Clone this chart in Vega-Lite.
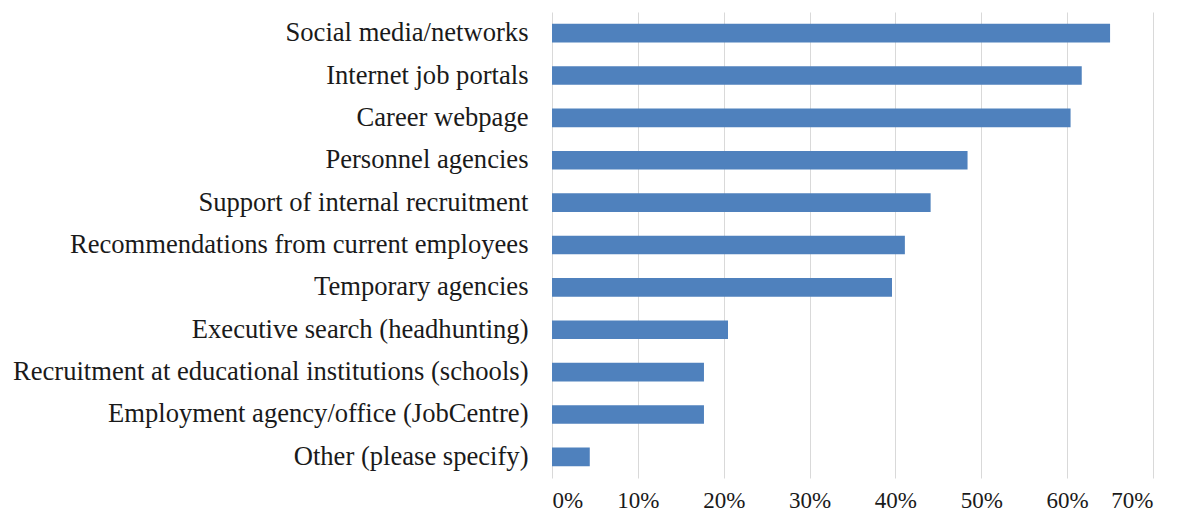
{
  "$schema": "https://vega.github.io/schema/vega-lite/v6.json",
  "autosize": {"type": "none"},
  "padding": {"left": 552, "top": 12, "right": 33, "bottom": 40},
  "width": 601,
  "height": 466,
  "background": "white",
  "config": {"view": {"stroke": null}, "font": "Liberation Serif"},
  "data": {
    "values": [
      {"source": "Social media/networks", "share": 0.65},
      {"source": "Internet job portals", "share": 0.617},
      {"source": "Career webpage", "share": 0.604},
      {"source": "Personnel agencies", "share": 0.484},
      {"source": "Support of internal recruitment", "share": 0.441},
      {"source": "Recommendations from current employees ", "share": 0.411},
      {"source": "Temporary agencies", "share": 0.396},
      {"source": "Executive search (headhunting)", "share": 0.205},
      {"source": "Recruitment at educational institutions (schools)", "share": 0.177},
      {"source": "Employment agency/office (JobCentre)", "share": 0.177},
      {"source": "Other (please specify)", "share": 0.044}
    ]
  },
  "mark": {"type": "bar", "color": "#4f81bd"},
  "encoding": {
    "y": {
      "field": "source",
      "type": "nominal",
      "sort": null,
      "scale": {"paddingInner": 0.56, "paddingOuter": 0.28},
      "axis": {
        "title": null,
        "ticks": false,
        "domain": false,
        "labelPadding": 24,
        "labelFontSize": 26.6,
        "labelColor": "#1a1a1a",
        "labelLimit": 0,
        "labelFont": "Liberation Serif"
      }
    },
    "x": {
      "field": "share",
      "type": "quantitative",
      "scale": {"domain": [0, 0.7], "nice": false},
      "axis": {
        "title": null,
        "format": ".0%",
        "values": [0, 0.1, 0.2, 0.3, 0.4, 0.5, 0.6, 0.7],
        "ticks": false,
        "domain": false,
        "grid": true,
        "gridColor": "#d9d9d9",
        "gridWidth": 1,
        "labelPadding": 11,
        "labelFontSize": 23,
        "labelColor": "#1a1a1a",
        "labelFont": "Liberation Serif"
      }
    }
  }
}
